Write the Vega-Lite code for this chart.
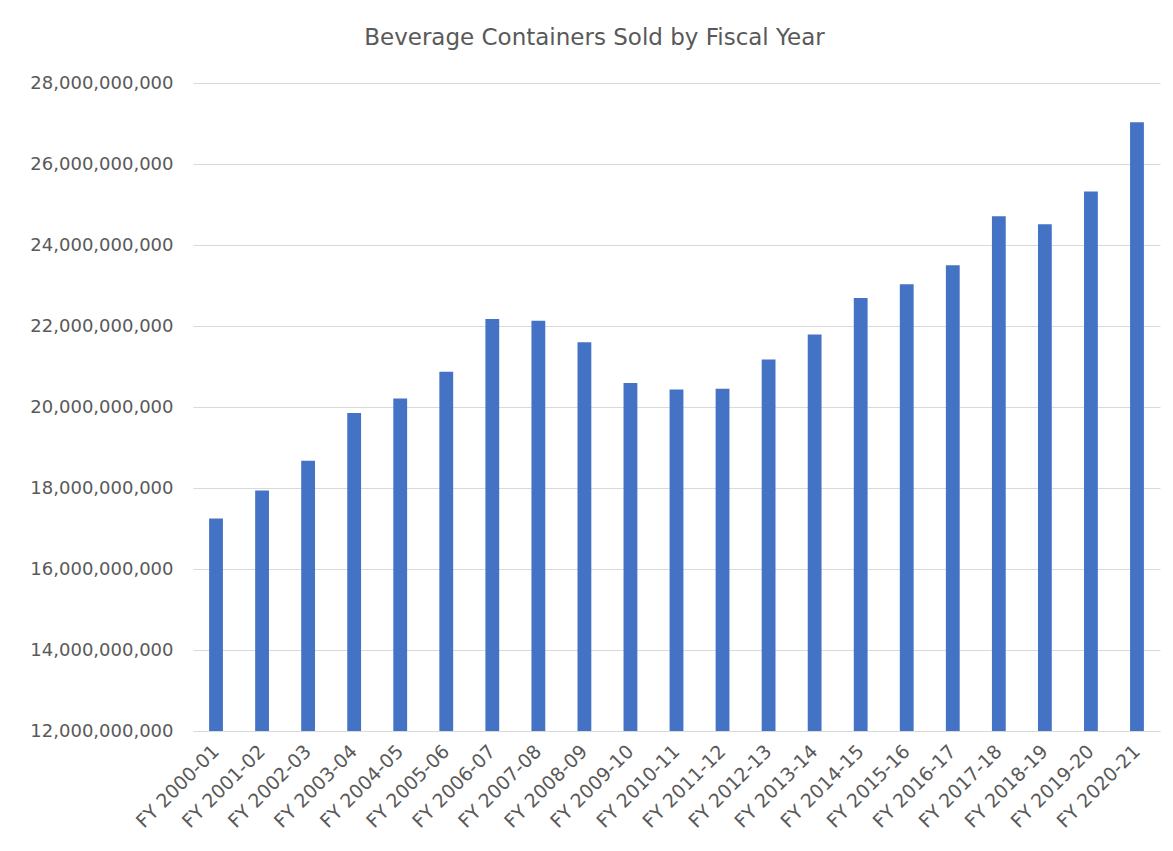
{
  "$schema": "https://vega.github.io/schema/vega-lite/v6.json",
  "autosize": {"type": "none"},
  "padding": {"left": 193, "top": 83, "right": 13, "bottom": 120},
  "width": 967,
  "height": 648,
  "background": "white",
  "title": {
    "text": "Beverage Containers Sold by Fiscal Year",
    "font": "DejaVu Sans",
    "fontSize": 23,
    "fontWeight": "normal",
    "color": "#595959",
    "anchor": "middle",
    "frame": "group",
    "dx": -82,
    "offset": 24
  },
  "data": {
    "values": [
      {"year": "FY 2000-01", "containers": 17250000000},
      {"year": "FY 2001-02", "containers": 17940000000},
      {"year": "FY 2002-03", "containers": 18670000000},
      {"year": "FY 2003-04", "containers": 19850000000},
      {"year": "FY 2004-05", "containers": 20210000000},
      {"year": "FY 2005-06", "containers": 20870000000},
      {"year": "FY 2006-07", "containers": 22170000000},
      {"year": "FY 2007-08", "containers": 22130000000},
      {"year": "FY 2008-09", "containers": 21600000000},
      {"year": "FY 2009-10", "containers": 20590000000},
      {"year": "FY 2010-11", "containers": 20430000000},
      {"year": "FY 2011-12", "containers": 20450000000},
      {"year": "FY 2012-13", "containers": 21170000000},
      {"year": "FY 2013-14", "containers": 21790000000},
      {"year": "FY 2014-15", "containers": 22690000000},
      {"year": "FY 2015-16", "containers": 23030000000},
      {"year": "FY 2016-17", "containers": 23500000000},
      {"year": "FY 2017-18", "containers": 24710000000},
      {"year": "FY 2018-19", "containers": 24510000000},
      {"year": "FY 2019-20", "containers": 25320000000},
      {"year": "FY 2020-21", "containers": 27030000000}
    ]
  },
  "mark": {"type": "bar", "color": "#4472C4", "clip": true},
  "encoding": {
    "x": {
      "field": "year",
      "type": "nominal",
      "sort": null,
      "title": null,
      "scale": {"paddingInner": 0.7, "paddingOuter": 0.35},
      "axis": {
        "labelAngle": -45,
        "labelAlign": "right",
        "labelBaseline": "middle",
        "labelPadding": 17,
        "labelFont": "DejaVu Sans",
        "labelFontSize": 19,
        "labelColor": "#595959",
        "ticks": false,
        "domainColor": "#d9d9d9",
        "domainWidth": 1,
        "grid": false
      }
    },
    "y": {
      "field": "containers",
      "type": "quantitative",
      "title": null,
      "scale": {"domain": [12000000000, 28000000000], "zero": false, "nice": false},
      "axis": {
        "values": [12000000000, 14000000000, 16000000000, 18000000000, 20000000000, 22000000000, 24000000000, 26000000000, 28000000000],
        "format": ",.0f",
        "labelFont": "DejaVu Sans",
        "labelFontSize": 18,
        "labelColor": "#595959",
        "labelPadding": 20,
        "ticks": false,
        "domain": false,
        "grid": true,
        "gridColor": "#d9d9d9",
        "gridWidth": 1
      }
    }
  },
  "config": {"view": {"stroke": null}}
}
